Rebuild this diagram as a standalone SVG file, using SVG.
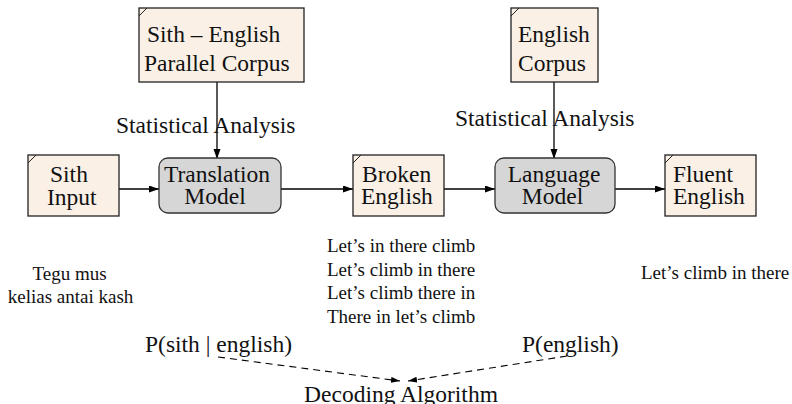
<svg xmlns="http://www.w3.org/2000/svg" width="792" height="404" viewBox="0 0 792 404">
<defs>
<style>
.note{fill:#faf0e6;stroke:#222;stroke-width:1.3}
.corner{fill:none;stroke:#222;stroke-width:1}
.model{fill:#d6d6d6;stroke:#333;stroke-width:1.3}
text{font-family:"Liberation Serif","Times New Roman",serif;fill:#111}
.big{font-size:23.5px}
.small{font-size:19px}
.mid{text-anchor:middle}
.edge{fill:none;stroke:#000;stroke-width:1.3}
.dash{fill:none;stroke:#000;stroke-width:1.1;stroke-dasharray:7 5}
</style>
<marker id="ah" markerUnits="userSpaceOnUse" markerWidth="11" markerHeight="8" refX="10" refY="3.5" orient="auto">
<path d="M0,0 L10,3.5 L0,7 z" fill="#000"/>
</marker>
<marker id="ahs" markerUnits="userSpaceOnUse" markerWidth="10" markerHeight="7" refX="9" refY="3" orient="auto">
<path d="M0,0 L9,3 L0,6 z" fill="#000"/>
</marker>
</defs>

<g id="connectors">
<line class="edge" x1="217" y1="82" x2="217" y2="159" marker-end="url(#ah)"/>
<line class="edge" x1="554" y1="82" x2="554" y2="159" marker-end="url(#ah)"/>
<line class="edge" x1="119" y1="189" x2="159" y2="189" marker-end="url(#ah)"/>
<line class="edge" x1="281" y1="189" x2="353" y2="189" marker-end="url(#ah)"/>
<line class="edge" x1="444" y1="189" x2="495" y2="189" marker-end="url(#ah)"/>
<line class="edge" x1="615" y1="189" x2="665" y2="189" marker-end="url(#ah)"/>
<line class="dash" x1="218" y1="357" x2="400" y2="381" marker-end="url(#ahs)"/>
<line class="dash" x1="567" y1="356" x2="408" y2="381" marker-end="url(#ahs)"/>
<text class="big" x="116" y="133">Statistical Analysis</text>
<text class="big" x="455" y="126">Statistical Analysis</text>
<text class="big" x="145" y="352">P(sith | english)</text>
<text class="big" x="522" y="352">P(english)</text>
</g>

<g id="sith-english-corpus">
<rect class="note" x="139" y="8" width="165" height="74"/>
<line class="corner" x1="139" y1="16" x2="147" y2="8"/>
<text class="big" x="147" y="42">Sith – English</text>
<text class="big" x="144" y="71">Parallel Corpus</text>
</g>

<g id="english-corpus">
<rect class="note" x="511" y="8" width="87" height="74"/>
<line class="corner" x1="511" y1="16" x2="519" y2="8"/>
<text class="big" x="518" y="42">English</text>
<text class="big" x="518" y="71">Corpus</text>
</g>

<g id="sith-input">
<rect class="note" x="28" y="155" width="91" height="61"/>
<line class="corner" x1="28" y1="163" x2="36" y2="155"/>
<text class="big" x="50" y="182">Sith</text>
<text class="big" x="47" y="205">Input</text>
</g>

<g id="translation-model">
<rect class="model" x="159" y="158" width="122" height="55" rx="9"/>
<text class="big mid" x="217" y="182">Translation</text>
<text class="big mid" x="215" y="204">Model</text>
</g>

<g id="broken-english">
<rect class="note" x="353" y="155" width="91" height="61"/>
<line class="corner" x1="353" y1="163" x2="361" y2="155"/>
<text class="big" x="362" y="182">Broken</text>
<text class="big" x="361" y="204">English</text>
</g>

<g id="language-model">
<rect class="model" x="495" y="158" width="120" height="55" rx="9"/>
<text class="big mid" x="554" y="182">Language</text>
<text class="big mid" x="552.5" y="204">Model</text>
</g>

<g id="fluent-english">
<rect class="note" x="665" y="155" width="91" height="61"/>
<line class="corner" x1="665" y1="163" x2="673" y2="155"/>
<text class="big" x="673" y="182">Fluent</text>
<text class="big" x="673" y="204">English</text>
</g>

<g id="sith-example">
<text class="small mid" x="69.5" y="280">Tegu mus</text>
<text class="small mid" x="70.5" y="303">kelias antai kash</text>
</g>

<g id="broken-example">
<text class="small" x="327" y="252">Let’s in there climb</text>
<text class="small" x="327" y="275.5">Let’s climb in there</text>
<text class="small" x="327" y="299">Let’s climb there in</text>
<text class="small" x="327" y="322.5">There in let’s climb</text>
</g>

<g id="fluent-example">
<text class="small" x="641" y="279">Let’s climb in there</text>
</g>

<g id="decoding-algorithm">
<text class="big mid" x="401" y="402">Decoding Algorithm</text>
</g>
</svg>
